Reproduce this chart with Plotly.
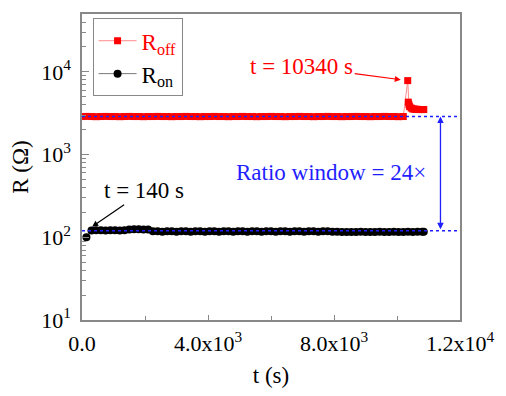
import math
import plotly.graph_objects as go

# ---- data ----
t_off = [0, 150, 300, 450, 600, 750, 900, 1050, 1200, 1350, 1500, 1650, 1800, 1950, 2100,
         2250, 2400, 2550, 2700, 2850, 3000, 3150, 3300, 3450, 3600, 3750, 3900, 4050, 4200,
         4350, 4500, 4650, 4800, 4950, 5100, 5250, 5400, 5550, 5700, 5850, 6000, 6150, 6300,
         6450, 6600, 6750, 6900, 7050, 7200, 7350, 7500, 7650, 7800, 7950, 8100, 8250, 8400,
         8550, 8700, 8850, 9000, 9150, 9300, 9450, 9600, 9750, 9900, 10050, 10200,
         10340, 10360, 10380, 10400, 10450, 10500, 10550, 10600, 10650, 10700, 10750, 10800, 10850]
r_off = [2880, 2890, 2880, 2870, 2880, 2890, 2880, 2880, 2870, 2880, 2890, 2880, 2880, 2870, 2880,
         2880, 2890, 2880, 2880, 2870, 2880, 2880, 2890, 2880, 2880, 2870, 2880, 2880, 2890,
         2880, 2880, 2870, 2880, 2880, 2890, 2880, 2880, 2870, 2880, 2880, 2890, 2880, 2880,
         2870, 2880, 2880, 2890, 2880, 2880, 2870, 2880, 2880, 2890, 2880, 2880, 2870, 2880,
         2880, 2890, 2880, 2880, 2870, 2880, 2880, 2890, 2880, 2880, 2870, 2880,
         7830, 4300, 4000, 3800, 3650, 3550, 3550, 3520, 3520, 3500, 3500, 3500, 3500]

t_on = [140, 300, 450, 600, 750, 900, 1050, 1200, 1350, 1500, 1650, 1800, 1950, 2100,
        2250, 2400, 2550, 2700, 2850, 3000, 3150, 3300, 3450, 3600, 3750, 3900, 4050, 4200,
        4350, 4500, 4650, 4800, 4950, 5100, 5250, 5400, 5550, 5700, 5850, 6000, 6150, 6300,
        6450, 6600, 6750, 6900, 7050, 7200, 7350, 7500, 7650, 7800, 7950, 8100, 8250, 8400,
        8550, 8700, 8850, 9000, 9150, 9300, 9450, 9600, 9750, 9900, 10050, 10200,
        10350, 10500, 10650, 10800, 10850]
r_on = [100, 121, 122, 122, 121, 122, 122, 121, 122, 124, 125, 125, 124, 124,
        118, 118, 117, 118, 118, 117, 118, 118, 117, 118, 118, 117, 118, 118,
        117, 118, 118, 117, 118, 118, 117, 118, 118, 117, 118, 118, 117, 118,
        118, 117, 118, 118, 117, 118, 118, 117, 118, 118, 117, 117, 116, 116,
        116, 116, 117, 116, 116, 116, 117, 116, 116, 117, 116, 116,
        117, 116, 117, 117, 117]

roff_level = 2880
ron_level = 120
ratio_text = "Ratio window = 24×"
x_ticks = [0, 4000, 8000, 12000]
x_ticktext = ["0.0", "4.0x10<sup>3</sup>", "8.0x10<sup>3</sup>", "1.2x10<sup>4</sup>"]
y_ticks = [10, 100, 1000, 10000]
y_ticktext = ["10<sup>1</sup>", "10<sup>2</sup>", "10<sup>3</sup>", "10<sup>4</sup>"]
y_minor = [m * d for d in [10, 100, 1000, 10000] for m in range(2, 10) if m * d <= 50000]

FONT = "Liberation Serif, Times New Roman, serif"
BLUE = "#1f1fff"
RED = "#ff0000"
GRAY = "#888888"

fig = go.Figure()
fig.add_trace(go.Scatter(
    x=t_off, y=r_off, mode="lines+markers",
    name='<span style="color:#ff0000">R<sub>off</sub></span>',
    line=dict(color="#ff8a8a", width=1),
    marker=dict(symbol="square", size=7, color=RED),
))
fig.add_trace(go.Scatter(
    x=t_on, y=r_on, mode="lines+markers",
    name="R<sub>on</sub>",
    line=dict(color="#777777", width=1),
    marker=dict(symbol="circle", size=8, color="black"),
))
# dotted reference lines
for lvl in [roff_level, ron_level]:
    fig.add_trace(go.Scatter(
        x=[0, 12000], y=[lvl, lvl], mode="lines", showlegend=False,
        line=dict(color=BLUE, width=1.5, dash="3px,3px"), hoverinfo="skip",
    ))

annotations = [
    dict(x=11380, y=math.log10(roff_level), ax=11380, ay=math.log10(ron_level),
         xref="x", yref="y", axref="x", ayref="y", text="", showarrow=True,
         arrowhead=2, arrowside="end+start", arrowsize=1, arrowwidth=1.3, arrowcolor=BLUE),
    dict(x=0.660, y=0.481, xref="paper", yref="paper", text=ratio_text, showarrow=False,
         font=dict(family=FONT, size=23, color=BLUE)),
    dict(x=10340, y=math.log10(7830), xref="x", yref="y", text="t = 10340 s",
         showarrow=True, ax=-106, ay=-14, arrowhead=2, arrowsize=1, arrowwidth=1.2,
         arrowcolor=RED, standoff=7, font=dict(family=FONT, size=23, color=RED)),
    dict(x=140, y=math.log10(ron_level), xref="x", yref="y", text="t = 140 s",
         showarrow=True, ax=58, ay=-40, arrowhead=2, arrowsize=1, arrowwidth=1.2,
         arrowcolor="black", standoff=7, font=dict(family=FONT, size=23, color="black")),
]

fig.update_layout(
    width=506, height=396,
    margin=dict(l=82, r=37, t=12, b=70),
    plot_bgcolor="white", paper_bgcolor="white",
    font=dict(family=FONT, size=21, color="black"),
    annotations=annotations,
    legend=dict(x=0.028, y=0.986, xanchor="left", yanchor="top",
                bgcolor="white", bordercolor=GRAY, borderwidth=1, itemwidth=38,
                font=dict(family=FONT, size=23, color="black")),
)
fig.update_xaxes(
    range=[0, 12000], tickvals=x_ticks, ticktext=x_ticktext,
    tickfont=dict(family=FONT, size=22),
    ticks="inside", ticklen=5, tickcolor=GRAY, tickwidth=1,
    minor=dict(tickvals=[2000, 6000, 10000], ticks="inside", ticklen=4, tickcolor=GRAY),
    showline=True, linecolor=GRAY, linewidth=1.5, mirror=True,
    showgrid=False, zeroline=False, ticklabelstandoff=3,
    title=dict(text="t (s)", font=dict(family=FONT, size=23), standoff=12),
)
fig.update_yaxes(
    type="log", range=[1, math.log10(50000)], tickvals=y_ticks, ticktext=y_ticktext,
    tickfont=dict(family=FONT, size=22),
    ticks="inside", ticklen=7, tickcolor=GRAY, tickwidth=1,
    minor=dict(tickvals=y_minor, ticks="inside", ticklen=4, tickcolor=GRAY),
    showline=True, linecolor=GRAY, linewidth=1.5, mirror=True,
    showgrid=False, zeroline=False, ticklabelstandoff=5,
    title=dict(text="R (Ω)", font=dict(family=FONT, size=23), standoff=6),
)

fig.write_html("out.html")
